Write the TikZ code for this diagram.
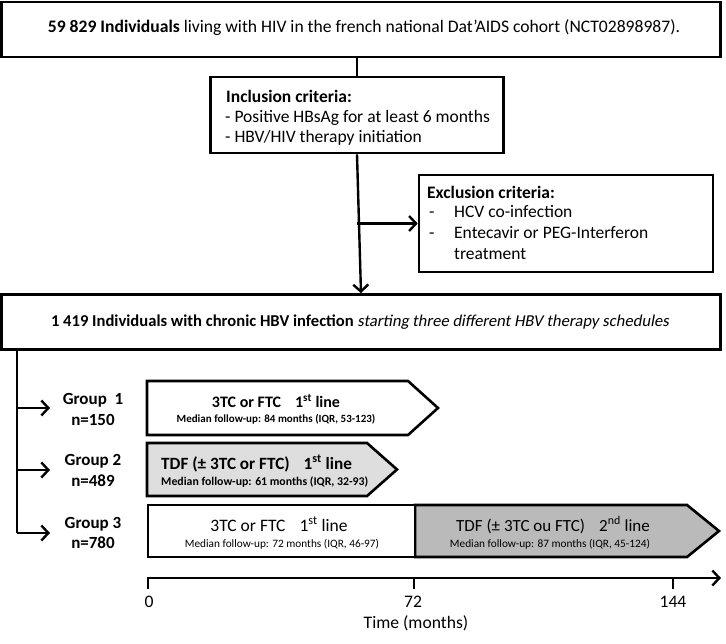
\documentclass[tikz,border=0pt]{standalone}
\usepackage{fontspec}
\setmainfont{Carlito}
\newfontface\slantface[FakeSlant=0.18]{Carlito}
\usetikzlibrary{arrows.meta}
\begin{document}
\begin{tikzpicture}[x=1pt,y=-1pt,
  box/.style={draw,line width=2.6pt,fill=white},
  conn/.style={line width=2.4pt},
  arr/.style={line width=2.4pt,-{Straight Barb[length=7pt,width=15pt,line width=2.4pt]}},
  txt/.style={inner sep=0pt,anchor=base,font=\fontsize{17.6}{20}\selectfont},
  lt/.style={inner sep=0pt,anchor=base west,font=\fontsize{17.5}{20}\selectfont},
  glab/.style={inner sep=0pt,anchor=base,font=\fontsize{17}{20}\selectfont\bfseries},
  bigb/.style={inner sep=0pt,anchor=base,font=\fontsize{16}{20}\selectfont\bfseries},
  bigr/.style={inner sep=0pt,anchor=base,font=\fontsize{17}{20}\selectfont},
  smallb/.style={inner sep=0pt,anchor=base,font=\fontsize{11}{13}\selectfont\bfseries},
  smallr/.style={inner sep=0pt,anchor=base,font=\fontsize{11.3}{13}\selectfont},
  lightfill/.style={fill=black!13},
  darkfill/.style={fill=black!27},
  chev/.style={draw,line width=2.6pt,line join=miter}
]
\useasboundingbox (0,0) rectangle (726,644);
% top box
\node[box,minimum width=719pt,minimum height=55pt] (top) at (361,29.5) {};
\node[txt] (toptxt) at (364,33) {\textbf{59 829 Individuals} living with HIV in the french national Dat’AIDS cohort (NCT02898987).};
% inclusion box
\node[box,minimum width=293pt,minimum height=76pt] (incl) at (357,115) {};
\node[lt] (i1) at (226,103) {\textbf{Inclusion criteria:}};
\node[lt] (i2) at (225,123) {- Positive HBsAg for at least 6 months};
\node[lt] (i3) at (225,143) {- HBV/HIV therapy initiation};
% exclusion box
\node[box,minimum width=294pt,minimum height=97pt] (excl) at (566,223.5) {};
\node[lt] (e1) at (427,199) {\textbf{Exclusion criteria:}};
\node[lt] (e2) at (429,218) {-};
\node[lt] (e2b) at (454,218) {HCV co-infection};
\node[lt] (e3) at (429,239) {-};
\node[lt] (e3b) at (454,239) {Entecavir or PEG-Interferon};
\node[lt] (e4) at (454,260) {treatment};
% middle box
\node[box,minimum width=719pt,minimum height=55pt] (mid) at (361,322) {};
\node[txt,font=\fontsize{16.6}{20}\selectfont] (midtxt) at (360,327) {\textbf{1 419 Individuals with chronic HBV infection} {\slantface starting three different HBV therapy schedules}};
% connectors top
\draw[conn] (top.south -| incl.north) -- (incl.north);
\coordinate (br) at (incl.south |- excl.west);
\draw[arr] (incl.south) -- (mid.north);
\draw[arr] (br) -- (excl.west);
% trunk
\coordinate (t0) at (17,349);
\coordinate (t1) at (17,408);
\coordinate (t2) at (17,470);
\coordinate (t3) at (17,533);
\draw[conn] (t0) -- (t3);
% group labels
\node[glab] (g1) at (93,404) {Group\ \ 1};
\node[glab] (g1n) at (93,425) {n=150};
\node[glab] (g2) at (93,465) {Group 2};
\node[glab] (g2n) at (93,486) {n=489};
\node[glab] (g3) at (93,528) {Group 3};
\node[glab] (g3n) at (93,548) {n=780};
\draw[arr] (t1) -- (50,408);
\draw[arr] (t2) -- (50,470);
\draw[arr] (t3) -- (50,533);
% group 1 shape
\draw[chev,fill=white] (147,381) -- (408,381) -- (438,408) -- (408,435) -- (147,435) -- cycle;
\node[bigb] (s1a) at (276,408) {3TC or FTC\hspace{14pt}1\textsuperscript{st} line};
\node[smallb] (s1b) at (276,422) {Median follow-up: 84 months (IQR, 53-123)};
% group 2 shape
\draw[chev,lightfill] (147,443) -- (367,443) -- (397,469.5) -- (367,496) -- (147,496) -- cycle;
\node[bigb,font=\fontsize{17.2}{20}\selectfont\bfseries,anchor=base west] (s2a) at (161,469) {TDF (± 3TC or FTC)\hspace{14pt}1\textsuperscript{st} line};
\node[smallb,font=\fontsize{11.8}{13}\selectfont\bfseries,anchor=base west] (s2b) at (161,485) {Median follow-up: 61 months (IQR, 32-93)};
% group 3 shape
\draw[chev,darkfill] (415,505) -- (687,505) -- (719,531) -- (687,557) -- (415,557) -- cycle;
\draw[chev,fill=white] (148,505) rectangle (415,557);
\node[bigr,font=\fontsize{17.5}{20}\selectfont] (s3a) at (279,531) {3TC or FTC\hspace{14pt}1\textsuperscript{st} line};
\node[smallr] (s3b) at (282,547) {Median follow-up: 72 months (IQR, 46-97)};
\node[bigr] (s3c) at (553,531) {TDF (± 3TC ou FTC)\hspace{14pt}2\textsuperscript{nd} line};
\node[smallr] (s3d) at (550,547) {Median follow-up: 87 months (IQR, 45-124)};
% axis
\coordinate (a0) at (148,578);
\coordinate (a1) at (721,578);
\draw[arr] (a0) -- (a1);
\draw[line width=2.6pt] (148,576.8) -- (148,589);
\draw[line width=2.6pt] (414,578) -- (414,589);
\draw[line width=2.6pt] (673,578) -- (673,589);
\node[txt] (l0) at (149,607) {0};
\node[txt] (l72) at (413,607) {72};
\node[txt] (l144) at (673,607) {144};
\node[txt] (tl) at (416,628) {Time (months)};
\end{tikzpicture}
\end{document}
